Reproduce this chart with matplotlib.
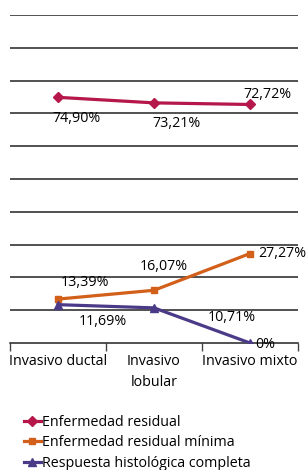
import matplotlib
matplotlib.use("Agg")
import matplotlib.pyplot as plt

categories = ["Invasivo ductal", "Invasivo\nlobular", "Invasivo mixto"]
residual = [74.90, 73.21, 72.72]
residual_min = [13.39, 16.07, 27.27]
respuesta = [11.69, 10.71, 0]
residual_lbl = ["74,90%", "73,21%", "72,72%"]
residual_min_lbl = ["13,39%", "16,07%", "27,27%"]
respuesta_lbl = ["11,69%", "10,71%", "0%"]
series_names = ["Enfermedad residual", "Enfermedad residual mínima",
                "Respuesta histológica completa"]

plt.rcParams['font.family'] = ['Open Sans', 'DejaVu Sans']

fig = plt.figure(figsize=(3.06, 4.70), dpi=100)
ax = fig.add_axes([10/306, 127/470, 288/306, 328/470])

x = [0, 1, 2]
ax.set_xlim(-0.5, 2.5)
ax.set_ylim(0, 100)

for v in range(10, 101, 10):
    ax.axhline(v, color='#222222', lw=1.1, zorder=0)

red = '#B5174A'
orange = '#D2601A'
purple = '#4B3A87'

l1, = ax.plot(x, residual, color=red, lw=2.3, marker='D', ms=5, zorder=3)
l2, = ax.plot(x, residual_min, color=orange, lw=2.3, marker='s', ms=5, zorder=3)
l3, = ax.plot(x, respuesta, color=purple, lw=2.3, marker='^', ms=6, zorder=3)

fs = 10.3
# labels for red series
ax.annotate(residual_lbl[0], (0, residual[0]), xytext=(-4, -15), textcoords='offset points', fontsize=fs, ha='left', va='center')
ax.annotate(residual_lbl[1], (1, residual[1]), xytext=(-1, -15), textcoords='offset points', fontsize=fs, ha='left', va='center')
ax.annotate(residual_lbl[2], (2, residual[2]), xytext=(-5, 7), textcoords='offset points', fontsize=fs, ha='left', va='center')
# orange
ax.annotate(residual_min_lbl[0], (0, residual_min[0]), xytext=(2, 12), textcoords='offset points', fontsize=fs, ha='left', va='center')
ax.annotate(residual_min_lbl[1], (1, residual_min[1]), xytext=(-10, 17), textcoords='offset points', fontsize=fs, ha='left', va='center')
ax.annotate(residual_min_lbl[2], (2, residual_min[2]), xytext=(6, 0), textcoords='offset points', fontsize=fs, ha='left', va='center')
# purple
ax.annotate(respuesta_lbl[0], (0, respuesta[0]), xytext=(15, -12), textcoords='offset points', fontsize=fs, ha='left', va='center')
ax.annotate(respuesta_lbl[1], (1, respuesta[1]), xytext=(39, -7), textcoords='offset points', fontsize=fs, ha='left', va='center')
ax.annotate(respuesta_lbl[2], (2, respuesta[2]), xytext=(4, -1), textcoords='offset points', fontsize=fs, ha='left', va='center')

for s in ['top', 'right', 'left']:
    ax.spines[s].set_visible(False)
ax.spines['bottom'].set_color('#222222')
ax.spines['bottom'].set_linewidth(1.1)
ax.set_yticks([])
ax.set_xticks([-0.5, 0.5, 1.5, 2.5])
ax.set_xticklabels([])
ax.tick_params(axis='x', length=6, width=1, color='#444444', direction='out')
ax.set_xticks(x, minor=True)
ax.set_xticklabels(categories, minor=True, fontsize=fs, linespacing=1.5)
ax.tick_params(axis='x', which='minor', length=0, pad=8)

fig.legend([l1, l2, l3], series_names, loc='upper left',
           bbox_to_anchor=(18/306, 1 - 409/470), frameon=False,
           fontsize=fs, handlelength=1.2, handletextpad=0.1,
           labelspacing=0.38, borderaxespad=0)

fig.savefig("out.png", dpi=100)
